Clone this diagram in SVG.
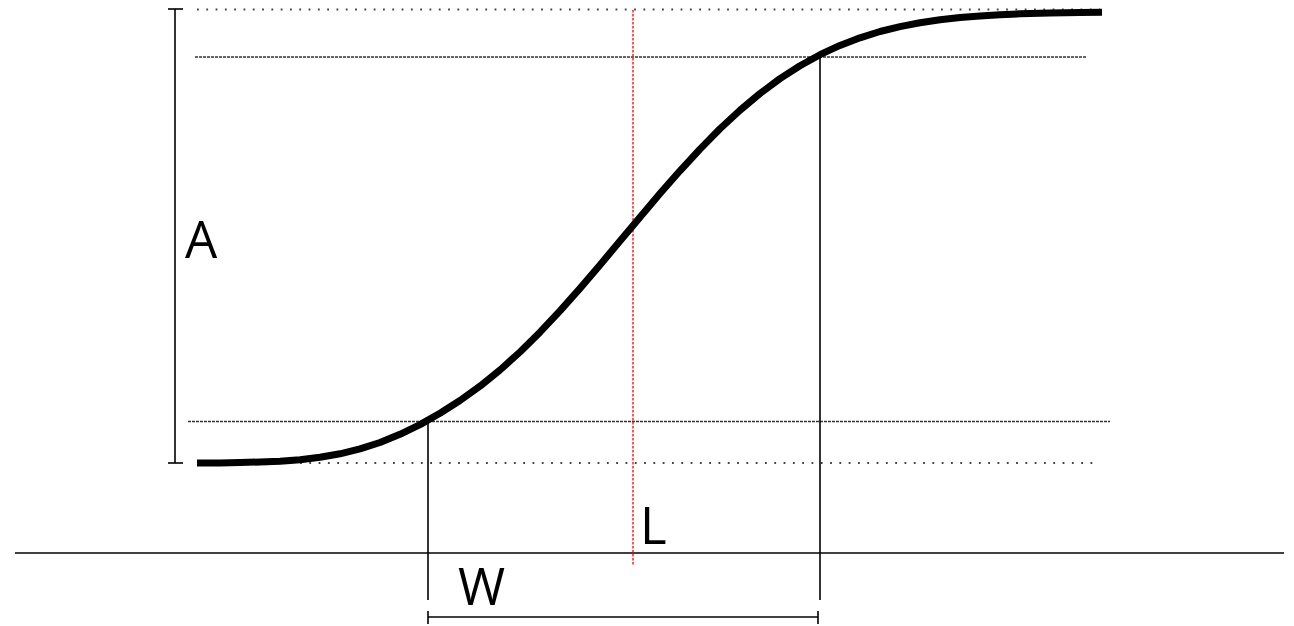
<svg xmlns="http://www.w3.org/2000/svg" width="1294" height="626" viewBox="0 0 1294 626">
<style>
.sparse{stroke:#444;stroke-width:1.8;stroke-dasharray:1.8 7.5;fill:none}
.dense{stroke:#333;stroke-width:1.6;stroke-dasharray:3 1;fill:none}
.thin{stroke:#000;stroke-width:1.6;fill:none}
.lbl{font-family:"Open Sans","Liberation Sans",sans-serif;font-size:51px;fill:#000}
</style>
<rect width="1294" height="626" fill="#fff"/>
<g id="guides">
<line class="sparse" x1="197" y1="9.5" x2="1100" y2="9.5"/>
<line class="sparse" x1="300" y1="463" x2="1097" y2="463"/>
<line class="dense" x1="195" y1="57" x2="1087" y2="57"/>
<line class="dense" x1="188" y1="421.5" x2="1110" y2="421.5"/>
</g>
<g id="connectors">
<line class="thin" x1="15" y1="553" x2="1284" y2="553"/>
<line class="thin" x1="175" y1="9" x2="175" y2="463"/>
<line class="thin" x1="168" y1="9" x2="183" y2="9"/>
<line class="thin" x1="168" y1="463" x2="183" y2="463"/>
<line class="thin" x1="428" y1="421" x2="428" y2="600"/>
<line class="thin" x1="820" y1="57" x2="820" y2="600"/>
<line class="thin" x1="428" y1="617" x2="818" y2="617"/>
<line class="thin" x1="428" y1="611" x2="428" y2="624"/>
<line class="thin" x1="818" y1="611" x2="818" y2="624"/>
<line x1="633" y1="10" x2="633" y2="566" stroke="#ff2020" stroke-width="1.5" stroke-dasharray="2.5 1.5"/>
</g>
<g id="curve">
<polyline fill="none" stroke="#000" stroke-width="7" stroke-linejoin="round" points="197,463 220,462.9 240,462.6 260,462 280,461.2 300,459.7 320,457.3 340,453.8 360,448.9 380,442.5 400,434.3 420,424.6 440,413.2 460,400.5 480,386.2 500,370 520,352 540,332.2 560,310.9 580,288.4 600,264.9 620,241.1 640,217.2 660,193.5 680,170.8 700,149.1 720,128.7 740,110.2 760,93.5 780,78.6 800,65.7 820,54.7 840,45.4 860,37.8 880,31.5 900,26.6 920,22.8 940,19.8 960,17.5 980,15.9 1000,14.7 1020,13.8 1050,13 1080,12.5 1102,12.3"/>
</g>
<g id="labels">
<text class="lbl" x="185" y="258">A</text>
<text class="lbl" x="640" y="544">L</text>
<text class="lbl" x="458" y="605">W</text>
</g>
</svg>
